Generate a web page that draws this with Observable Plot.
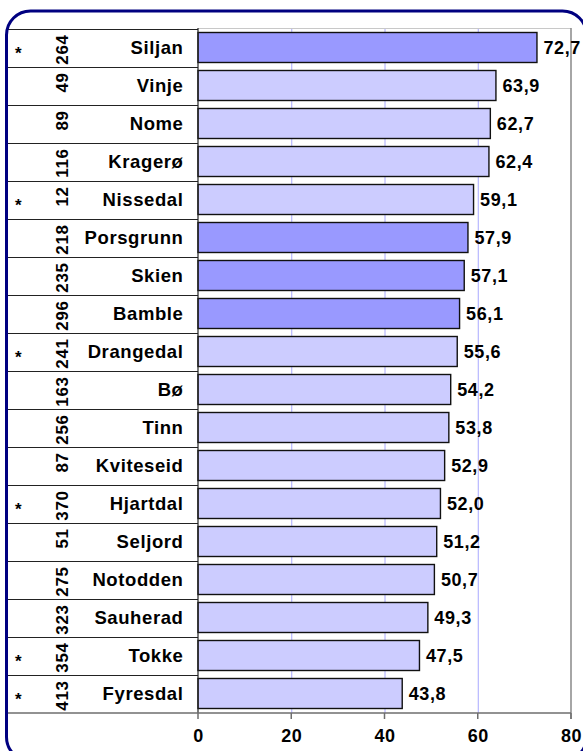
<!DOCTYPE html>
<html>
<head>
<meta charset="utf-8">
<script src="https://cdn.jsdelivr.net/npm/d3@7"></script>
<script src="https://cdn.jsdelivr.net/npm/@observablehq/plot@0.6"></script>
<style>
  html, body { margin: 0; padding: 0; background: #ffffff; }
  #chart { width: 583px; height: 751px; overflow: hidden; }
</style>
</head>
<body>
<div id="chart"></div>
<script>
// ---- data ----
const names = ["Siljan","Vinje","Nome","Kragerø","Nissedal","Porsgrunn","Skien","Bamble","Drangedal","Bø","Tinn","Kviteseid","Hjartdal","Seljord","Notodden","Sauherad","Tokke","Fyresdal"];
const values = [72.7,63.9,62.7,62.4,59.1,57.9,57.1,56.1,55.6,54.2,53.8,52.9,52.0,51.2,50.7,49.3,47.5,43.8];
const counts = [264,49,89,116,12,218,235,296,241,163,256,87,370,51,275,323,354,413];
const starred = ["Siljan","Nissedal","Drangedal","Hjartdal","Tokke","Fyresdal"];
const highlighted = ["Siljan","Porsgrunn","Skien","Bamble"];
const xTicks = [0,20,40,60,80];
const gridValues = [20,40,60];

const data = names.map((name, i) => ({
  name,
  value: values[i],
  count: counts[i],
  star: starred.includes(name),
  group: highlighted.includes(name) ? "dark" : "light"
}));

const FONT = "'Liberation Sans', Arial, Helvetica, sans-serif";

// decorative table lines, axis line/ticks and outer rounded frame, drawn with Plot's scales
function decor(index, scales, values, dims) {
  const {x, y} = scales;
  const {width, height, marginTop, marginBottom} = dims;
  const top = marginTop, bottom = height - marginBottom;
  const left = x(xTicks[0]), right = x(xTicks[xTicks.length - 1]);
  const bw = (typeof y.bandwidth === "function") ? y.bandwidth() : (bottom - top) / names.length;
  const g = d3.create("svg:g");
  const bounds = names.map(n => y(n)).concat([y(names[names.length - 1]) + bw]);
  g.selectAll("line.row").data(bounds.slice(0, -1)).join("line")
    .attr("x1", 7).attr("x2", left)
    .attr("y1", d => Math.round(d) + 0.5).attr("y2", d => Math.round(d) + 0.5)
    .attr("stroke", "#222").attr("stroke-width", 1);
  g.append("line").attr("x1", left).attr("x2", right)
    .attr("y1", top + 0.5).attr("y2", top + 0.5)
    .attr("stroke", "#c8c8c8").attr("stroke-width", 1);
  g.append("line").attr("x1", left).attr("x2", left)
    .attr("y1", top).attr("y2", bottom)
    .attr("stroke", "#222").attr("stroke-width", 1.2);
  g.append("line").attr("x1", right).attr("x2", right)
    .attr("y1", top).attr("y2", bottom + 6)
    .attr("stroke", "#888").attr("stroke-width", 1.5);
  g.append("line").attr("x1", 7).attr("x2", right)
    .attr("y1", bottom).attr("y2", bottom)
    .attr("stroke", "#6e6e6e").attr("stroke-width", 1.5);
  g.selectAll("line.tick").data(xTicks).join("line")
    .attr("x1", d => x(d)).attr("x2", d => x(d))
    .attr("y1", bottom).attr("y2", bottom + 6)
    .attr("stroke", "#6e6e6e").attr("stroke-width", 1.5);
  g.append("rect").attr("x", 6.5).attr("y", 11).attr("width", 580).attr("height", 750)
    .attr("rx", 24).attr("ry", 24)
    .attr("fill", "none").attr("stroke", "#000080").attr("stroke-width", 3);
  return g.node();
}

const chart = Plot.plot({
  width: 583,
  height: 751,
  marginLeft: 198,
  marginRight: 12,
  marginTop: 28,
  marginBottom: 38,
  style: `font-family: ${FONT}; letter-spacing: 0.6px; background: transparent; overflow: visible;`,
  x: {domain: [0, 80], axis: null},
  y: {domain: names, padding: 0, axis: null},
  color: {domain: ["dark", "light"], range: ["#9999ff", "#ccccff"]},
  marks: [
    Plot.ruleX(gridValues, {stroke: "#a8a8ff", strokeWidth: 1}),
    Plot.barX(data, {
      x: "value", y: "name", fill: "group",
      stroke: "#111", strokeWidth: 1.4,
      insetTop: 3.5, insetBottom: 4.5
    }),
    decor,
    Plot.text(data, {
      y: "name", text: "name", frameAnchor: "left", textAnchor: "end",
      dx: -15, fontWeight: "bold", fontSize: 18.5, fill: "#000"
    }),
    Plot.text(data, {
      y: "name", text: d => String(d.count), frameAnchor: "left", textAnchor: "end",
      rotate: -90, dx: -136, dy: -14, fontWeight: "bold", fontSize: 17, fill: "#000"
    }),
    Plot.text(data.filter(d => d.star), {
      y: "name", text: () => "*", frameAnchor: "left", textAnchor: "middle",
      dx: -180, dy: 5, fontSize: 17, fontWeight: "bold", fill: "#000"
    }),
    Plot.text(data, {
      x: "value", y: "name", text: d => d.value.toFixed(1).replace(".", ","),
      textAnchor: "start", dx: 6, fontWeight: "bold", fontSize: 18, fill: "#000"
    }),
    Plot.text(xTicks, {
      x: d => d, text: d => String(d), frameAnchor: "bottom", textAnchor: "middle",
      dy: 28, fontWeight: "bold", fontSize: 18, fill: "#000"
    })
  ]
});

document.getElementById("chart").appendChild(chart);
</script>
</body>
</html>
